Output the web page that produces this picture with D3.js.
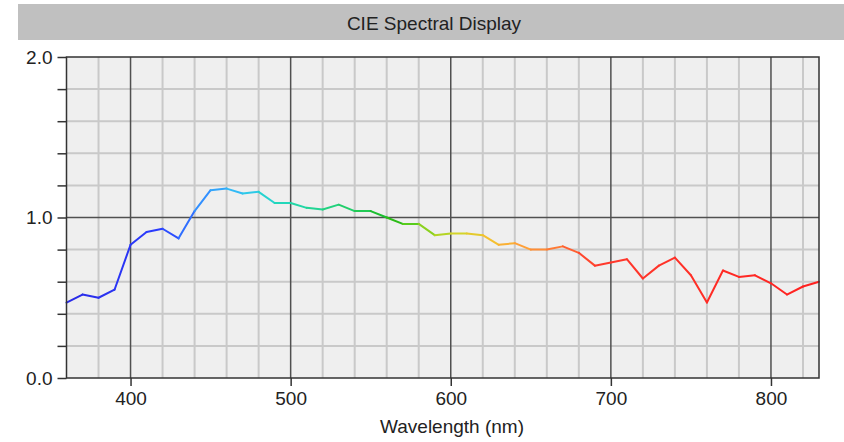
<!DOCTYPE html>
<html>
<head>
<meta charset="utf-8">
<script src="https://cdn.jsdelivr.net/npm/d3@7"></script>
<style>
  html, body { margin: 0; padding: 0; background: #fff; }
  svg text { font-family: "Liberation Sans", Arial, sans-serif; fill: #222; }
</style>
</head>
<body>
<div id="chart"></div>
<script>
// spectrum samples, every 10 nm
var wavelengths = [360, 370, 380, 390, 400, 410, 420, 430, 440, 450, 460, 470, 480, 490, 500,
                   510, 520, 530, 540, 550, 560, 570, 580, 590, 600, 610, 620, 630, 640, 650,
                   660, 670, 680, 690, 700, 710, 720, 730, 740, 750, 760, 770, 780, 790, 800,
                   810, 820, 830];
var intensities = [0.47, 0.52, 0.50, 0.55, 0.83, 0.91, 0.93, 0.87, 1.04, 1.17, 1.18, 1.15, 1.16, 1.09, 1.09,
                   1.06, 1.05, 1.08, 1.04, 1.04, 1.00, 0.96, 0.96, 0.89, 0.90, 0.90, 0.89, 0.83, 0.84, 0.80,
                   0.80, 0.82, 0.78, 0.70, 0.72, 0.74, 0.62, 0.70, 0.75, 0.64, 0.47, 0.67, 0.63, 0.64, 0.59,
                   0.52, 0.57, 0.60];
var xTicks = [400, 500, 600, 700, 800];
var yTicks = [0.0, 1.0, 2.0];
var title = "CIE Spectral Display";
var xLabel = "Wavelength (nm)";

// rough colour of each wavelength on the line
var hueStops = [360, 420, 445, 470, 490, 520, 550, 560, 575, 590, 605, 625, 645, 665, 690, 830];
var hueColors = ["#2a2ae6", "#2a3cff", "#3290ff", "#32c4f4", "#22d8c4", "#22d48a", "#22c84a", "#14b414",
                 "#58cc1c", "#a4d420", "#d4d42a", "#f4c030", "#ffa038", "#ff7a34", "#ff3a2c", "#ff2020"];

var W = 844, H = 442;
var plot = {left: 66.5, top: 57, right: 819, bottom: 378};

var svg = d3.select("#chart").append("svg")
    .attr("width", W).attr("height", H);

// title bar
svg.append("rect")
    .attr("x", 18).attr("y", 4).attr("width", W - 18).attr("height", 36)
    .style("fill", "#c0c0c0");
svg.append("text")
    .attr("x", 434).attr("y", 30)
    .attr("text-anchor", "middle")
    .style("font-size", "19px")
    .text(title);

var x = d3.scaleLinear().domain([360, 830]).range([plot.left, plot.right]);
var y = d3.scaleLinear().domain([0, 2]).range([plot.bottom, plot.top]);
var colour = d3.scaleLinear().domain(hueStops).range(hueColors);

svg.append("rect")
    .attr("x", plot.left).attr("y", plot.top)
    .attr("width", plot.right - plot.left).attr("height", plot.bottom - plot.top)
    .style("fill", "#efefef");

var grid = svg.append("g");
var minorX = d3.range(380, 830, 20).filter(function(d){ return d % 100 != 0; });
var minorY = d3.range(0.2, 2.0, 0.2).filter(function(d){ return Math.abs(d - 1) > 0.01; });

grid.selectAll(".mx").data(minorX).enter().append("line")
    .attr("x1", function(d){ return x(d); }).attr("x2", function(d){ return x(d); })
    .attr("y1", plot.top).attr("y2", plot.bottom)
    .style("stroke", "#c9c9c9").style("stroke-width", 2);
grid.selectAll(".my").data(minorY).enter().append("line")
    .attr("x1", plot.left).attr("x2", plot.right)
    .attr("y1", function(d){ return y(d); }).attr("y2", function(d){ return y(d); })
    .style("stroke", "#c9c9c9").style("stroke-width", 2);
grid.selectAll(".Mx").data(xTicks).enter().append("line")
    .attr("x1", function(d){ return x(d); }).attr("x2", function(d){ return x(d); })
    .attr("y1", plot.top).attr("y2", plot.bottom)
    .style("stroke", "#505050").style("stroke-width", 1.5);
grid.append("line")
    .attr("x1", plot.left).attr("x2", plot.right)
    .attr("y1", y(1)).attr("y2", y(1))
    .style("stroke", "#505050").style("stroke-width", 1.5);

// spectrum, one short segment per sample step
var pts = wavelengths.map(function(w, i){ return [w, intensities[i]]; });
var segs = d3.pairs(pts);
svg.append("g").selectAll("line").data(segs).enter().append("line")
    .attr("x1", function(d){ return x(d[0][0]); })
    .attr("y1", function(d){ return y(d[0][1]); })
    .attr("x2", function(d){ return x(d[1][0]); })
    .attr("y2", function(d){ return y(d[1][1]); })
    .style("stroke", function(d){ return colour((d[0][0] + d[1][0]) / 2); })
    .style("stroke-width", 2)
    .style("stroke-linecap", "round");

// frame
svg.append("rect")
    .attr("x", plot.left).attr("y", plot.top)
    .attr("width", plot.right - plot.left).attr("height", plot.bottom - plot.top)
    .style("fill", "none").style("stroke", "#333").style("stroke-width", 1.5);

// axes
var xAxis = svg.append("g")
    .attr("transform", "translate(0," + plot.bottom + ")")
    .call(d3.axisBottom(x).tickValues(xTicks).tickSize(8).tickSizeOuter(0).tickFormat(d3.format("d")));
xAxis.select(".domain").remove();
xAxis.selectAll("line").style("stroke", "#333").style("stroke-width", 1.5);
xAxis.selectAll("text").style("font-size", "19px").attr("y", 12).attr("dy", "0.79em").style("fill", "#222");

var yAxis = svg.append("g")
    .attr("transform", "translate(" + plot.left + ",0)")
    .call(d3.axisLeft(y).tickValues(d3.range(0, 2.01, 0.2)).tickSize(9).tickSizeOuter(0)
        .tickFormat(function(d){
            return yTicks.some(function(t){ return Math.abs(t - d) < 0.01; }) ? d3.format(".1f")(d) : "";
        }));
yAxis.select(".domain").remove();
yAxis.selectAll("line").style("stroke", "#333").style("stroke-width", 1.5);
yAxis.selectAll("text").style("font-size", "19px").attr("x", -14).style("fill", "#222");

svg.append("text")
    .attr("x", 452).attr("y", 433)
    .attr("text-anchor", "middle")
    .style("font-size", "19px")
    .text(xLabel);
</script>
</body>
</html>
